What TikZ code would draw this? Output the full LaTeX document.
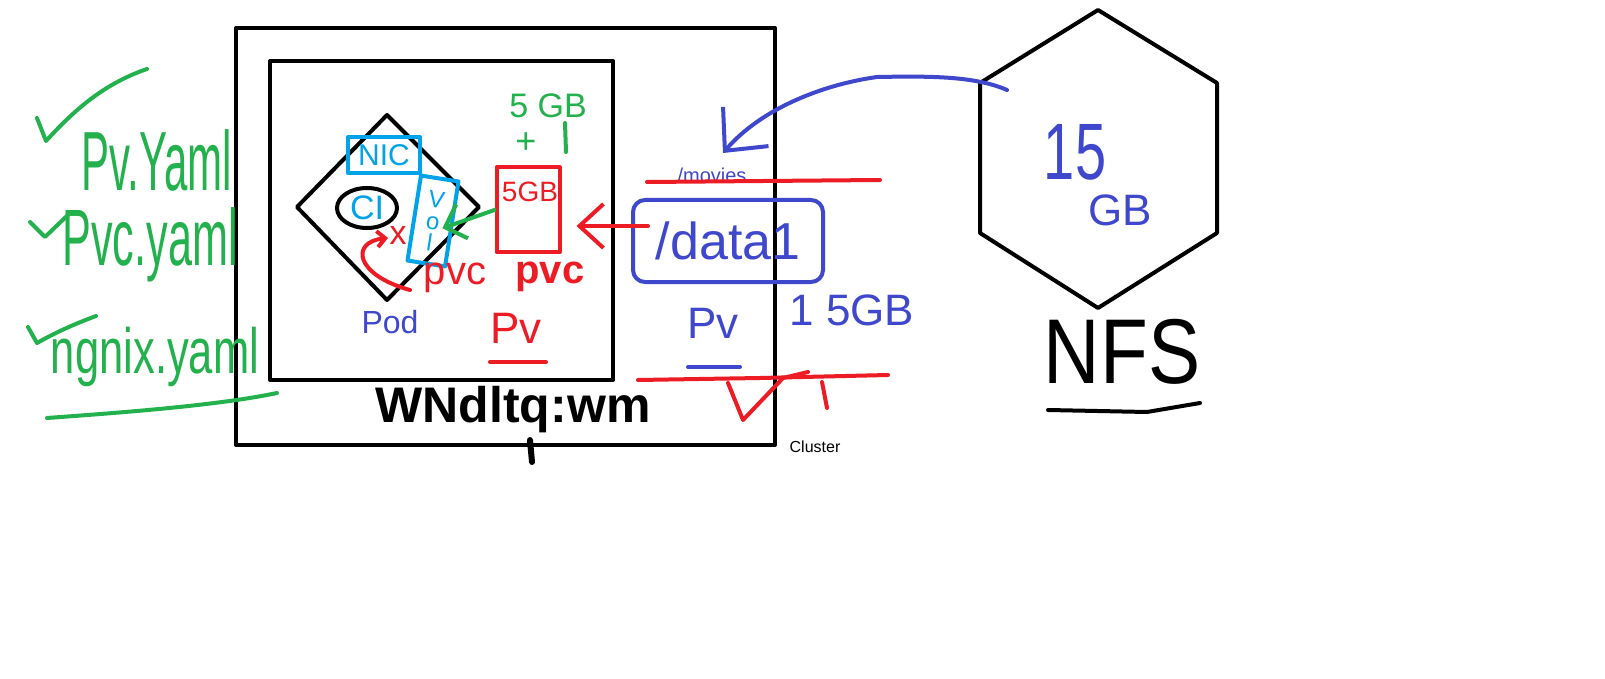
\documentclass[tikz,border=0pt]{standalone}
\usepackage{fontspec}
\setmainfont{Liberation Sans}
\usetikzlibrary{arrows.meta,shapes.geometric,calc}
\definecolor{pblue}{RGB}{63,72,204}
\definecolor{pred}{RGB}{237,28,36}
\definecolor{pgreen}{RGB}{34,177,76}
\definecolor{pcyan}{RGB}{0,162,232}
\newcommand{\fs}[1]{\fontsize{#1}{#1}\selectfont}
\begin{document}
\begin{tikzpicture}[x=0.5pt,y=-0.5pt,
  ink/.style={line width=2pt, line cap=round, line join=round},
  blk/.style={ink, draw=black},
  txt/.style={inner sep=0pt, anchor=center},
  gtxt/.style={txt, text=pgreen},
  rtxt/.style={txt, text=pred},
  btxt/.style={txt, text=pblue},
  ctxt/.style={txt, text=pcyan},
  ktxt/.style={txt, text=black}
]
\useasboundingbox (0,0) rectangle (1605,679);
\fill[white] (0,0) rectangle (1605,679);

% cluster frames
\draw[blk] (236,28) rectangle (775,445);
\draw[blk] (270,61) rectangle (613,380);
\draw[ink, line width=3pt] (530,440) -- (532,462);

% pod diamond
\draw[blk] (387,115) -- (479,207) -- (387,300) -- (297,207) -- cycle;
\node[ellipse, blk, minimum width=30pt, minimum height=20pt, inner sep=0pt, text=pcyan, font=\fs{17}] (ci) at (367,208) {CI};
\node[ink, draw=pcyan, minimum width=36pt, minimum height=18pt, inner sep=0pt, text=pcyan, font=\fs{15}] (nic) at (384,155) {NIC};
\node[ink, draw=pcyan, rotate=-9, minimum width=19pt, minimum height=43pt, inner sep=0pt, text=pcyan, align=center, font=\fs{12}] (vol) at (433,221) {V\\[-1pt]o\\[-1pt]l};

% storage box
\node[ink, draw=pred, minimum width=31.5pt, minimum height=42.5pt, inner sep=0pt] (gb5) at (528,210) {};
\node[rtxt, font=\fs{14}] (gb5t) at (530,192) {5GB};
\node[gtxt, font=\fs{17}] (g5) at (548,106) {5 GB};
\node[gtxt, font=\fs{18}] (gplus) at (526,143) {+};
\draw[ink, draw=pgreen] (565,123) -- (566,152);

\draw[ink, draw=pgreen, -{Straight Barb[length=9pt,width=18pt]}, shorten >=-6pt] (gb5.west) -- (vol.east);

% pod annotations
\node[rtxt, font=\fs{17}] (xmark) at (398,236) {x};
\coordinate (cs) at (410,290);
\coordinate (ce) at (388,238);
\draw[ink, draw=pred, -{Straight Barb[length=4pt,width=8pt]}] (cs) .. controls (355,275) and (350,242) .. (ce);
\node[rtxt, font=\fs{20}] (pvc1) at (455,278) {pvc};
\node[btxt, font=\fs{16}] (pod) at (390,322) {Pod};
\node[rtxt, font=\bfseries\fs{20}] (pvc2) at (550,277) {pvc};
\node[rtxt, font=\fs{22}] (pvr) at (516,328) {Pv};
\draw[ink, draw=pred] (490,362) -- (546,362);

% left list
\draw[ink, draw=pgreen] (37,118) -- (46,141) .. controls (70,115) and (100,85) .. (147,69);
\node[gtxt, font=\fs{42}, xscale=0.5] (pvyaml) at (157,160) {Pv.Yaml};
\draw[ink, draw=pgreen] (30,222) -- (45,237) -- (70,213);
\node[gtxt, font=\fs{40}, xscale=0.54] (pvcyaml) at (150,245) {Pvc.yaml};
\draw[ink, draw=pgreen] (28,327) -- (37,343) .. controls (60,330) and (80,322) .. (96,316);
\node[gtxt, font=\fs{32}, xscale=0.68] (ngyaml) at (155,357) {ngnix.yaml};
\draw[ink, draw=pgreen] (47,418) .. controls (130,412) and (220,405) .. (277,393);

% worker label
\node[ktxt, font=\bfseries\fs{25}] (worker) at (513,410) {WNdltq:wm};
\node[ktxt, font=\fs{8}] (cluster) at (815,447) {Cluster};

% mount and pv
\node[btxt, font=\fs{10}] (movies) at (712,175) {/movies};
\draw[ink, draw=pred] (647,182) -- (880,180);
\node[ink, draw=pblue, rounded corners=6pt, minimum width=95pt, minimum height=41pt, inner sep=0pt, text=pblue, font=\fs{26}] (data1) at (728,241) {/data1};
\draw[ink, draw=pred, -{Straight Barb[length=12pt,width=22pt]}] ($(data1.west)+(17,-15)$) -- ($(gb5.east)+(15,16)$);
\node[btxt, font=\fs{22}] (pvb) at (713,323) {Pv};
\draw[ink, draw=pblue] (688,367) -- (740,367);
\node[btxt, font=\fs{22}] (gb15) at (852,310) {1 5GB};
\draw[ink, draw=pred] (638,380) -- (760,378) -- (888,375);
\draw[ink, draw=pred] (728,383) -- (743,420) -- (783,378) -- (808,372);
\draw[ink, draw=pred] (822,382) -- (827,408);

% NFS
\draw[blk] (1098,10) -- (1217,83) -- (1217,233) -- (1098,308) -- (980,233) -- (980,83) -- cycle;
\coordinate (nfsin) at (1007,90);
\coordinate (bluetip) at (723,153);
\draw[ink, draw=pblue, -{Straight Barb[length=16pt,width=30pt]}] (nfsin) .. controls (975,76) and (930,76) .. (877,77) .. controls (820,85) and (760,110) .. (bluetip);
\node[btxt, font=\fs{40}, xscale=0.7] (n15) at (1075,152) {15};
\node[btxt, font=\fs{22}] (ngb) at (1120,210) {GB};
\node[ktxt, font=\fs{46}, xscale=0.85] (nfs) at (1122,352) {NFS};
\draw[ink, draw=black] (1048,410) -- (1147,412) -- (1200,403);
\end{tikzpicture}
\end{document}
